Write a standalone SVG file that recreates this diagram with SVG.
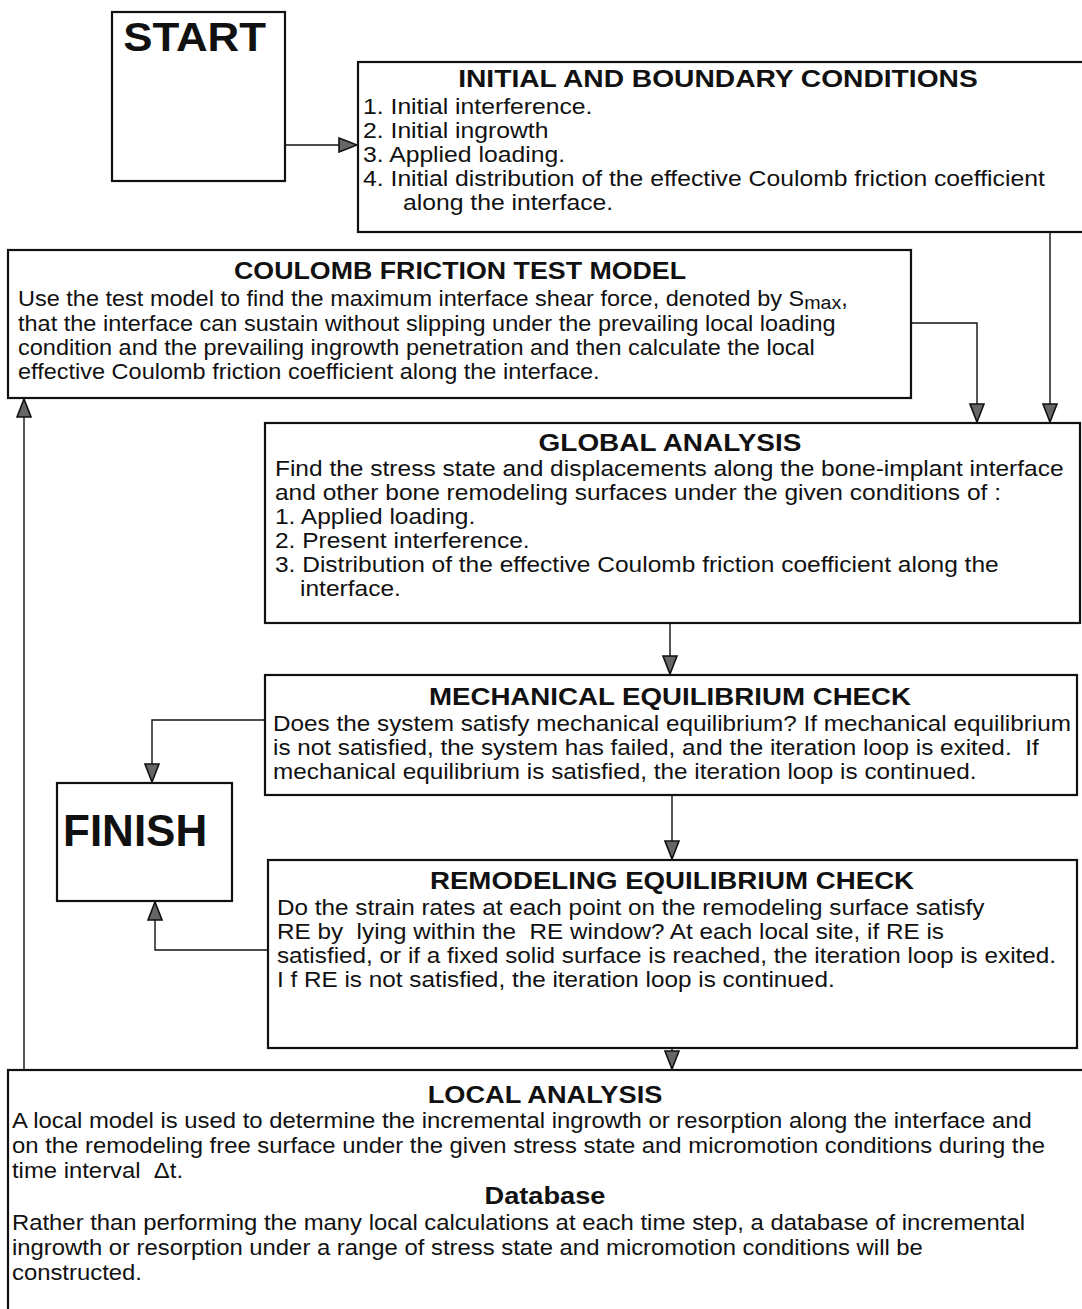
<svg xmlns="http://www.w3.org/2000/svg" width="1082" height="1309" viewBox="0 0 1082 1309">
<style>
text{font-family:"Liberation Sans",Arial,Helvetica,sans-serif;fill:#111;white-space:pre}
.t{font-size:24.5px;font-weight:bold;text-anchor:middle}
.b{font-size:21.5px}
.big{font-weight:bold}
.box{fill:#fff;stroke:#111;stroke-width:2.2}
.c{fill:none;stroke:#111;stroke-width:1.4}
</style>
<defs>
<marker id="ah" viewBox="0 0 20 16" refX="20" refY="8" markerWidth="21" markerHeight="16" markerUnits="userSpaceOnUse" orient="auto">
<path d="M1,1 L19,8 L1,15 z" fill="#666" stroke="#111" stroke-width="1.6"/>
</marker>
</defs>
<g id="connectors">
<path class="c" d="M285,145 H358" marker-end="url(#ah)"/>
<path class="c" d="M1050,232 V423" marker-end="url(#ah)"/>
<path class="c" d="M911,323 H977 V423" marker-end="url(#ah)"/>
<path class="c" d="M670,623 V675" marker-end="url(#ah)"/>
<path class="c" d="M672,795 V860" marker-end="url(#ah)"/>
<path class="c" d="M672,1048 V1070" marker-end="url(#ah)"/>
<path class="c" d="M265,720 H152 V783" marker-end="url(#ah)"/>
<path class="c" d="M268,950 H155 V901" marker-end="url(#ah)"/>
<path class="c" d="M24,1070 V398" marker-end="url(#ah)"/>
</g>
<g id="start">
<rect class="box" x="112" y="12" width="173" height="169"/>
<text class="big" x="115.1" y="51" font-size="41" transform="scale(1.07,1)">START</text>
</g>
<g id="initial">
<rect class="box" x="358" y="62" width="740" height="170"/>
<g transform="scale(1.15,1)">
<text class="t" x="624.3" y="87">INITIAL AND BOUNDARY CONDITIONS</text>
<text class="b" x="315.7" y="114">1. Initial interference.</text>
<text class="b" x="315.7" y="138">2. Initial ingrowth</text>
<text class="b" x="315.7" y="162">3. Applied loading.</text>
<text class="b" x="315.7" y="186">4. Initial distribution of the effective Coulomb friction coefficient</text>
<text class="b" x="350.4" y="210">along the interface.</text>
</g>
</g>
<g id="coulomb">
<rect class="box" x="8" y="250" width="903" height="148"/>
<g transform="scale(1.093,1)">
<text class="t" x="420.9" y="279">COULOMB FRICTION TEST MODEL</text>
<text class="b" x="16.5" y="306">Use the test model to find the maximum interface shear force, denoted by S<tspan font-size="18" dy="3">max</tspan><tspan dy="-3">,</tspan></text>
<text class="b" x="16.5" y="331">that the interface can sustain without slipping under the prevailing local loading</text>
<text class="b" x="16.5" y="355">condition and the prevailing ingrowth penetration and then calculate the local</text>
<text class="b" x="16.5" y="379">effective Coulomb friction coefficient along the interface.</text>
</g>
</g>
<g id="global">
<rect class="box" x="265" y="423" width="815" height="200"/>
<g transform="scale(1.14,1)">
<text class="t" x="587.7" y="451">GLOBAL ANALYSIS</text>
<text class="b" x="241.2" y="476">Find the stress state and displacements along the bone-implant interface</text>
<text class="b" x="241.2" y="500">and other bone remodeling surfaces under the given conditions of :</text>
<text class="b" x="241.2" y="524">1. Applied loading.</text>
<text class="b" x="241.2" y="548">2. Present interference.</text>
<text class="b" x="241.2" y="572">3. Distribution of the effective Coulomb friction coefficient along the</text>
<text class="b" x="263.2" y="596">interface.</text>
</g>
</g>
<g id="mechanical">
<rect class="box" x="265" y="675" width="812" height="120"/>
<g transform="scale(1.13,1)">
<text class="t" x="592.9" y="705">MECHANICAL EQUILIBRIUM CHECK</text>
<text class="b" x="241.6" y="731">Does the system satisfy mechanical equilibrium? If mechanical equilibrium</text>
<text class="b" x="241.6" y="755">is not satisfied, the system has failed, and the iteration loop is exited.  If</text>
<text class="b" x="241.6" y="779">mechanical equilibrium is satisfied, the iteration loop is continued.</text>
</g>
</g>
<g id="finish">
<rect class="box" x="57" y="783" width="175" height="118"/>
<text class="big" x="63" y="846" font-size="44">FINISH</text>
</g>
<g id="remodeling">
<rect class="box" x="268" y="860" width="809" height="188"/>
<g transform="scale(1.13,1)">
<text class="t" x="594.7" y="889">REMODELING EQUILIBRIUM CHECK</text>
<text class="b" x="245.1" y="915">Do the strain rates at each point on the remodeling surface satisfy</text>
<text class="b" x="245.1" y="939">RE by  lying within the  RE window? At each local site, if RE is</text>
<text class="b" x="245.1" y="963">satisfied, or if a fixed solid surface is reached, the iteration loop is exited.</text>
<text class="b" x="245.1" y="987">I f RE is not satisfied, the iteration loop is continued.</text>
</g>
</g>
<g id="local">
<rect class="box" x="8" y="1070" width="1090" height="260"/>
<g transform="scale(1.11,1)">
<text class="t" x="491" y="1103">LOCAL ANALYSIS</text>
<text class="b" x="10.8" y="1128">A local model is used to determine the incremental ingrowth or resorption along the interface and</text>
<text class="b" x="10.8" y="1153">on the remodeling free surface under the given stress state and micromotion conditions during the</text>
<text class="b" x="10.8" y="1178">time interval  Δt.</text>
<text class="t" x="491" y="1204">Database</text>
<text class="b" x="10.8" y="1230">Rather than performing the many local calculations at each time step, a database of incremental</text>
<text class="b" x="10.8" y="1255">ingrowth or resorption under a range of stress state and micromotion conditions will be</text>
<text class="b" x="10.8" y="1280">constructed.</text>
</g>
</g>
</svg>
